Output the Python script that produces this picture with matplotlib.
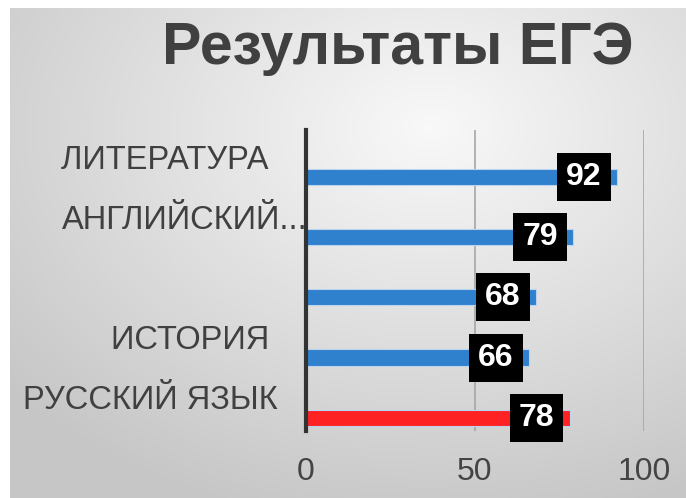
import matplotlib.pyplot as plt
import numpy as np

# Chart data (top to bottom)
subjects = ["ЛИТЕРАТУРА ", "АНГЛИЙСКИЙ...", "", "ИСТОРИЯ ", "РУССКИЙ ЯЗЫК"]
scores = [92, 79, 68, 66, 78]
bar_colors = ["#2F80CD", "#2F80CD", "#2F80CD", "#2F80CD", "#FF2222"]
x_ticks = [0, 50, 100]
title = "Результаты ЕГЭ"

plt.rcParams["font.family"] = ["Liberation Sans", "DejaVu Sans"]

W, H = 686, 498
fig = plt.figure(figsize=(W / 100, H / 100), dpi=100)
fig.patch.set_facecolor("white")

# Gradient background panel (radial, light near top-centre)
bg = fig.add_axes([10 / W, 0, 1 - 10 / W, 1 - 8 / H], zorder=-5)
yy, xx = np.mgrid[0:490, 0:676]
d = np.sqrt(((xx - 420) / 676) ** 2 + ((yy - 120) / 490) ** 2)
shade = np.clip(0.975 - 0.24 * d, 0.78, 1.0)
bg.imshow(np.dstack([shade] * 3), aspect="auto", extent=(0, 1, 0, 1), origin="upper")
bg.axis("off")

ax = fig.add_axes([306 / W, 1 - 431 / H, (644 - 306) / W, (431 - 130) / H])
ax.set_facecolor("none")

pos = np.arange(len(subjects))
bar_off = 0.28
ax.barh(pos + bar_off, scores, height=0.27, color=bar_colors,
        edgecolor="#BBD3EE", linewidth=0.8, zorder=3)

for i, v in enumerate(scores):
    ax.annotate(str(v), xy=(v, i + bar_off), xytext=(-33, 0), textcoords="offset pixels",
                ha="center", va="center", color="white", fontsize=23, fontweight="bold",
                bbox=dict(boxstyle="square,pad=0.28", fc="black", ec="none"), zorder=5)

# category labels (the long one is cut and runs up to the axis)
label_shift = [0, 30, 0, 0, 0]
for i, name in enumerate(subjects):
    ax.annotate(name, xy=(0, i), xycoords=("axes fraction", "data"),
                xytext=(-28 + label_shift[i], 0), textcoords="offset pixels",
                ha="right", va="center", fontsize=23.5, color="#404040")

ax.set_xlim(0, 100)
ax.set_ylim(len(subjects) - 0.5, -0.5)
ax.set_xticks(x_ticks)
ax.set_xticklabels([str(t) for t in x_ticks], fontsize=23, color="#444444")
ax.tick_params(axis="x", length=0, pad=19)
ax.set_yticks([])
ax.grid(axis="x", color="#A6A6A6", linewidth=1.2, zorder=0)
for s in ["top", "right", "bottom"]:
    ax.spines[s].set_visible(False)
ax.spines["left"].set_color("#333333")
ax.spines["left"].set_linewidth(3)
ax.spines["left"].set_zorder(4)

fig.text(398 / W, 1 - 48 / H, title, ha="center", va="center",
         fontsize=42.5, fontweight="bold", color="#404040")

fig.savefig("out.png", dpi=100)
